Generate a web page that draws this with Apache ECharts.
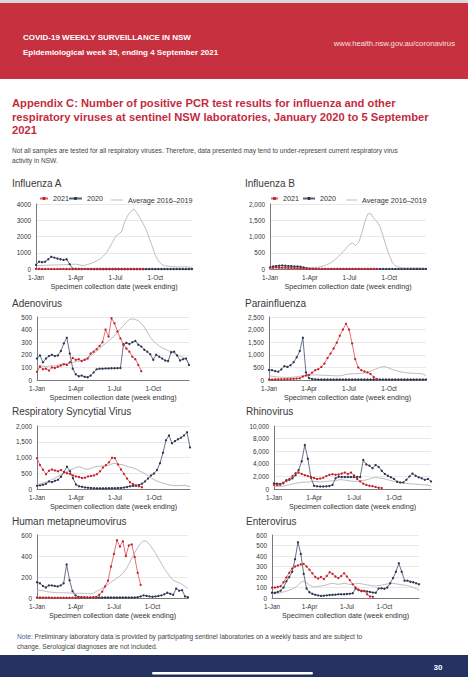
<!DOCTYPE html>
<html><head><meta charset="utf-8">
<script src="https://cdn.jsdelivr.net/npm/echarts/dist/echarts.min.js"></script>
<style>html,body{margin:0;padding:0;background:#fff}#c{width:468px;height:680px}</style>
</head><body><div id="c"></div><script>
// ---------- DATA ----------
const weeks = Array.from({length:52},(_,i)=>'Week '+(i+1));
const tickWeeks = [0,13,26,39];
const tickText = ['1-Jan','1-Apr','1-Jul','1-Oct'];
const titles = ['Influenza A','Influenza B','Adenovirus','Parainfluenza','Respiratory Syncytial Virus','Rhinovirus','Human metapneumovirus','Enterovirus'];
const yMax = [4000,2000,500,2500,2000,10000,600,600];
const yStep = [1000,500,100,500,500,2000,200,100];
const yComma = [false,true,true,true,true,true,true,true];

const fluA_2021 = [10,8,6,5,5,4,4,3,3,3, 2,2,2,2,2,2,3,2,2,2, 2,2,2,2,2,2,2,2,1,1, 1,1,1,1,1,1];
const fluA_2020 = [250,450,420,450,600,750,700,640,600,560, 600,300,15,8,5,4,3,3,2,2, 2,2,2,2,2,2,2,2,2,2, 2,2,2,2,2,2,2,2,2,2, 2,2,2,2,2,2,2,2,2,2, 2,2];
const fluA_avg = [200,210,220,230,240,240,250,250,260,260, 270,280,290,300,260,220,230,280,350,420, 520,620,800,1000,1300,1650,2000,2150,2300,2900, 3300,3550,3700,3450,3150,2800,2450,1900,1400,850, 500,300,200,170,150,140,130,130,130,140, 120,100];

const fluB_2021 = [40,40,50,40,40,40,30,30,30,20, 20,10,5,3,2,2,2,2,2,2, 2,2,2,2,2,2,2,2,2,2, 2,2,2,2,2,2];
const fluB_2020 = [50,80,90,100,110,100,90,90,80,80, 70,50,20,5,3,2,2,2,2,2, 2,2,2,2,2,2,2,2,2,2, 2,2,2,2,2,2,2,2,2,2, 2,2,2,2,2,2,2,2,2,2, 2,2];
const fluB_avg = [30,30,30,30,30,30,30,30,30,35, 35,40,40,45,50,50,60,80,110,150, 200,270,350,450,540,650,760,800,720,820, 1100,1450,1700,1700,1550,1450,1300,1000,700,420, 200,100,60,40,30,30,30,30,30,30, 25,20];

const adeno_2021 = [65,105,85,90,75,100,95,105,115,125, 120,140,175,160,165,150,160,170,210,225, 245,270,300,400,345,490,450,385,330,285, 250,225,185,165,120,70];
const adeno_2020 = [170,195,140,170,190,200,190,195,230,290, 335,210,90,45,30,35,25,22,35,60, 85,90,90,92,92,93,93,94,95,280, 295,285,300,310,280,265,240,225,205,160, 200,185,170,155,150,220,225,195,155,165, 170,120];
const adeno_avg = [110,115,110,105,110,115,110,120,125,130, 130,135,140,145,150,155,165,175,190,210, 230,250,270,290,310,330,350,380,410,430, 460,480,485,480,470,450,420,380,340,310, 290,270,255,245,235,225,210,200,190,180, 170,130];

const para_2021 = [20,20,25,25,30,30,35,40,45,55, 65,140,180,200,290,390,430,520,650,870, 1050,1250,1480,1760,2000,2230,2000,1450,830,500, 390,340,300,240,120,40];
const para_2020 = [400,390,350,330,420,550,520,590,700,900, 1150,1680,300,80,40,25,20,20,20,20, 20,20,20,20,20,20,20,20,20,20, 20,20,20,20,20,20,20,20,20,20, 20,20,20,20,20,20,20,20,20,20, 20,20];
const para_avg = [160,150,130,115,105,100,100,105,115,130, 150,160,175,190,200,200,195,190,185,180, 175,170,165,165,190,220,240,245,250,255, 265,280,310,350,400,450,500,530,520,470, 420,380,350,320,300,280,270,265,260,260, 240,170];

const rsv_2021 = [980,760,610,470,580,620,590,560,600,530, 500,480,430,400,380,350,360,400,415,430, 470,560,680,760,850,990,980,780,620,480, 330,215,155,115,85,55];
const rsv_2020 = [105,115,135,165,240,220,260,290,390,540, 710,560,340,140,85,70,50,40,30,25, 20,20,20,20,25,25,25,30,35,45, 63,85,100,105,130,170,240,330,430,490, 600,820,1150,1550,1700,1450,1520,1580,1630,1700, 1800,1320];
const rsv_avg = [135,160,190,220,260,300,345,400,450,500, 555,600,640,680,710,680,630,630,660,700, 715,725,730,735,760,800,815,790,775,760, 720,690,670,640,580,530,480,420,360,300, 250,215,180,160,130,115,105,105,110,115, 100,75];

const rhino_2021 = [680,650,680,1000,1250,1600,2050,2500,2600,2400, 2200,2050,1900,1750,1600,1650,1800,2050,2250,2350, 2250,2300,2450,2600,2400,2600,2150,1600,1200,850, 650,520,450,330,200,150];
const rhino_2020 = [890,850,800,900,1400,1450,1700,2200,3000,4400, 7000,4800,1800,500,420,400,400,420,480,650, 1700,1950,1900,1900,1900,1900,1900,1900,1900,4600, 3900,3700,3300,3800,3500,2900,2400,2100,1850,1600, 1150,1050,1050,1450,2000,2450,2100,1850,1700,1450, 1600,1200];
const rhino_avg = [450,420,420,450,550,680,800,900,980,1050, 1080,1100,1150,1200,1180,1100,1150,1200,1250,1300, 1350,1450,1480,1400,1350,1250,1200,1250,1300,1350, 1450,1600,1750,1820,1750,1700,1600,1450,1350,1200, 1100,1000,950,900,850,800,780,720,680,650, 600,450];

const hmpv_2021 = [5,5,4,4,4,3,3,3,3,3, 3,3,3,3,3,3,4,4,5,6, 10,30,60,110,165,300,420,550,490,540, 400,500,510,390,240,125];
const hmpv_2020 = [150,140,115,100,120,120,115,110,120,140, 320,170,65,25,10,8,6,5,5,5, 5,5,5,5,5,5,5,5,5,5, 5,5,5,5,8,15,25,20,15,12, 15,20,25,35,50,40,30,90,70,75, 15,8];
const hmpv_avg = [70,75,70,62,58,55,52,50,50,50, 50,48,46,45,45,45,44,42,40,45, 62,75,92,110,130,150,170,190,210,235, 270,320,380,430,480,520,545,540,510,470, 430,380,330,280,240,200,170,155,145,130, 110,90];

const entero_2021 = [98,100,105,112,150,195,240,280,300,310, 320,325,300,270,235,200,185,200,180,210, 245,230,205,190,210,235,205,170,130,100, 80,65,68,35,15,12];
const entero_2020 = [50,50,58,70,100,160,200,250,370,530, 420,230,90,55,40,30,25,20,22,25, 28,30,32,35,35,36,38,40,45,90, 75,70,66,62,58,52,50,90,92,88, 100,140,190,250,330,250,165,165,155,150, 140,130];
const entero_avg = [38,40,44,50,58,65,75,85,100,120, 150,160,145,125,110,105,110,115,120,125, 135,140,135,130,135,140,135,130,130,135, 140,135,130,125,120,115,115,118,122,128, 133,138,140,135,130,125,122,118,110,100, 90,75];

const s2021 = [fluA_2021,fluB_2021,adeno_2021,para_2021,rsv_2021,rhino_2021,hmpv_2021,entero_2021];
const s2020 = [fluA_2020,fluB_2020,adeno_2020,para_2020,rsv_2020,rhino_2020,hmpv_2020,entero_2020];
const sAvg  = [fluA_avg,fluB_avg,adeno_avg,para_avg,rsv_avg,rhino_avg,hmpv_avg,entero_avg];

// ---------- LAYOUT ----------
const FONT = 'Liberation Sans, Arial, sans-serif';
const boxes = [
  {left:36, top:204, width:156, height:65, tx:12,  ty:183},
  {left:270,top:204, width:156, height:65, tx:245, ty:183},
  {left:37, top:317, width:152, height:63, tx:12,  ty:303},
  {left:269,top:317, width:157, height:63, tx:245, ty:303},
  {left:37, top:426, width:153, height:63, tx:12,  ty:411},
  {left:274,top:426, width:157, height:63, tx:246, ty:411},
  {left:37, top:535, width:151, height:63, tx:12,  ty:521},
  {left:272,top:535, width:147, height:63, tx:246, ty:521}
];
const RED_LINE='#e06266', RED_PT='#c41f2b', NAVY_LINE='#56617a', NAVY_PT='#2b3550', GREY='#bdbdbd';
const comma = v => String(v).replace(/\B(?=(\d{3})+(?!\d))/g, ',');

const grid=[], xAxis=[], yAxis=[], series=[], graphic=[];
boxes.forEach((b,i)=>{
  grid.push({left:b.left, top:b.top, width:b.width, height:b.height, containLabel:false});
  xAxis.push({type:'category', gridIndex:i, data:weeks, boundaryGap:false,
    axisLine:{lineStyle:{color:'#7a7a7a', width:1}}, axisTick:{show:false},
    axisLabel:{interval:(idx)=>tickWeeks.includes(idx), formatter:(v,idx)=>tickText[tickWeeks.indexOf(idx)]||'',
      fontSize:6.4, color:'#333', margin:5, fontFamily:FONT},
    name:'Specimen collection date (week ending)', nameLocation:'middle', nameGap:13.5,
    nameTextStyle:{fontSize:7.2, color:'#333', fontFamily:FONT},
    splitLine:{show:false}});
  yAxis.push({type:'value', gridIndex:i, min:0, max:yMax[i], interval:yStep[i],
    axisLine:{show:true, lineStyle:{color:'#7a7a7a', width:1}}, axisTick:{show:false},
    axisLabel:{fontSize:6.4, color:'#333', margin:5, fontFamily:FONT, formatter:v=> yComma[i]?comma(v):String(v)},
    splitLine:{lineStyle:{color:'#e3e3e3', width:0.8}}});
  series.push({name:'Average 2016–2019', type:'line', xAxisIndex:i, yAxisIndex:i, data:sAvg[i], symbol:'none',
    lineStyle:{color:GREY, width:1}, itemStyle:{color:GREY}, z:2, silent:true});
  series.push({name:'2020', type:'line', xAxisIndex:i, yAxisIndex:i, data:s2020[i], symbol:'circle', symbolSize:2.3, showAllSymbol:true,
    lineStyle:{color:NAVY_LINE, width:0.9}, itemStyle:{color:NAVY_PT}, z:3, silent:true});
  series.push({name:'2021', type:'line', xAxisIndex:i, yAxisIndex:i, data:s2021[i], symbol:'circle', symbolSize:2.3, showAllSymbol:true,
    lineStyle:{color:RED_LINE, width:0.9}, itemStyle:{color:RED_PT}, z:4, silent:true});
  graphic.push({type:'text', x:b.tx, y:b.ty, style:{text:titles[i], fill:'#3a3a3a', fontSize:10, fontFamily:FONT, verticalAlign:'middle'}});
});

const legTxt = {fontSize:7.2, color:'#333', fontFamily:FONT};
const mkLeg = (name, left, w, h, icon) => ({data:[icon?{name, icon}:name], left, top:197-h/2, itemWidth:w, itemHeight:h,
  padding:0, selectedMode:false, textStyle:legTxt, itemGap:0});
const legend = [
  mkLeg('2021', 39, 8, 4), mkLeg('2020', 68, 13, 4), mkLeg('Average 2016–2019', 111, 12, 1, 'rect'),
  mkLeg('2021', 270, 7, 4), mkLeg('2020', 302, 12, 4), mkLeg('Average 2016–2019', 346, 11, 1, 'rect')
];

// page decoration and text
const page = [
  {type:'rect', shape:{x:0,y:0,width:468,height:3}, style:{fill:'#d9d9d9'}},
  {type:'rect', shape:{x:0,y:3,width:468,height:76}, style:{fill:'#c6303f'}},
  {type:'text', x:23, y:37, style:{text:'COVID-19 WEEKLY SURVEILLANCE IN NSW', fill:'#fff', fontSize:8, fontWeight:'bold', fontFamily:FONT, verticalAlign:'middle'}},
  {type:'text', x:23, y:52, style:{text:'Epidemiological week 35, ending 4 September 2021', fill:'#fff', fontSize:8, fontWeight:'bold', fontFamily:FONT, verticalAlign:'middle'}},
  {type:'text', x:455, y:43, style:{text:'www.health.nsw.gov.au/coronavirus', fill:'#f4e2e4', fontSize:7.7, fontFamily:FONT, align:'right', verticalAlign:'middle'}},
  {type:'text', x:12, y:103, style:{text:'Appendix C: Number of positive PCR test results for influenza and other', fill:'#c42b3e', fontSize:11.2, fontWeight:'bold', fontFamily:FONT, verticalAlign:'middle'}},
  {type:'text', x:12, y:116.5, style:{text:'respiratory viruses at sentinel NSW laboratories, January 2020 to 5 September', fill:'#c42b3e', fontSize:11.2, fontWeight:'bold', fontFamily:FONT, verticalAlign:'middle'}},
  {type:'text', x:12, y:129.5, style:{text:'2021', fill:'#c42b3e', fontSize:11.2, fontWeight:'bold', fontFamily:FONT, verticalAlign:'middle'}},
  {type:'text', x:12, y:150, style:{text:'Not all samples are tested for all respiratory viruses. Therefore, data presented may tend to under-represent current respiratory virus', fill:'#444', fontSize:6.6, fontFamily:FONT, verticalAlign:'middle'}},
  {type:'text', x:12, y:160, style:{text:'activity in NSW.', fill:'#444', fontSize:6.6, fontFamily:FONT, verticalAlign:'middle'}},
  {type:'text', x:17, y:636, style:{text:'{b|Note:} Preliminary laboratory data is provided by participating sentinel laboratories on a weekly basis and are subject to', fill:'#444', fontSize:6.6, fontFamily:FONT, verticalAlign:'middle', rich:{b:{fill:'#3a5da6', fontSize:6.6, fontFamily:FONT}}}},
  {type:'text', x:17, y:646, style:{text:'change. Serological diagnoses are not included.', fill:'#444', fontSize:6.6, fontFamily:FONT, verticalAlign:'middle'}},
  {type:'rect', shape:{x:0,y:655,width:468,height:22}, style:{fill:'#243161'}},
  {type:'text', x:438, y:667, style:{text:'30', fill:'#fff', fontSize:8, fontWeight:'bold', fontFamily:FONT, align:'center', verticalAlign:'middle'}},
  {type:'rect', shape:{x:152,y:672,width:161,height:2.5,r:1.25}, style:{fill:'#ffffff'}}
];

const chart = echarts.init(document.getElementById('c'), null, {renderer:'svg', width:468, height:680});
chart.setOption({
  animation:false, backgroundColor:'#fff',
  textStyle:{fontFamily:FONT},
  grid, xAxis, yAxis, series, legend,
  graphic: page.concat(graphic)
});
</script></body></html>
